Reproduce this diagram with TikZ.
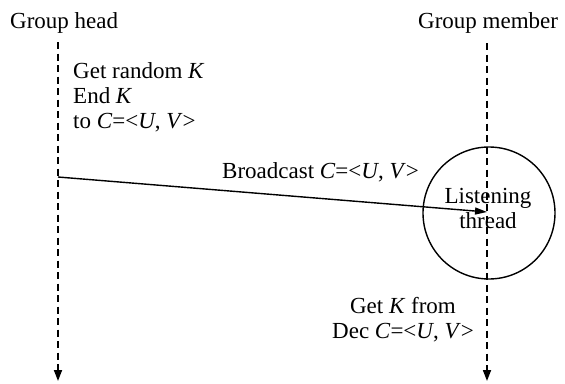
\documentclass[tikz,border=0pt]{standalone}
\usepackage{fontspec}
\setmainfont{Liberation Serif}
\usetikzlibrary{arrows.meta}
\begin{document}
\begin{tikzpicture}[x=1pt,y=-1pt,
  txt/.style={font=\fontsize{23}{25}\selectfont, inner sep=0pt},
  lbl/.style={txt, anchor=base west},
  lifeline/.style={line width=1.7pt, dash pattern=on 7pt off 4.5pt,
    -{Triangle[length=11pt,width=8pt]}},
  msg/.style={line width=1.4pt, -{Triangle[length=12pt,width=7pt]}},
  ring/.style={circle, draw, line width=1.4pt, minimum size=132pt, inner sep=0pt}]
  \useasboundingbox (0,0) rectangle (565,383);

  % column headings
  \node[lbl] (head) at (10,28) {Group head};
  \node[lbl] (member) at (418,28) {Group member};

  % lifelines
  \coordinate (headtop) at (58,42);
  \coordinate (headbot) at (58,381);
  \coordinate (membertop) at (487,43);
  \coordinate (memberbot) at (487,381);
  \draw[lifeline] (headtop) -- (headbot);
  \draw[lifeline] (membertop) -- (memberbot);

  % group head action (base = last line)
  \node[lbl, align=left] (enc) at (73,128)
    {Get random \textit{K}\\End \textit{K}\\to \textit{C}=<\textit{U}, \textit{V}>};

  % listening thread
  \node[ring] (listen) at (489,213) {};
  \node[txt, align=center, anchor=base] (listentext) at (488,228) {Listening\\thread};

  % broadcast message
  \coordinate (bstart) at (58,177);
  \coordinate (bend) at (487,212);
  \draw[msg] (bstart) -- (bend);
  \node[lbl] (bcast) at (222,178) {Broadcast \textit{C}=<\textit{U}, \textit{V}>};

  % group member action
  \node[txt, align=center, anchor=base] (dec) at (403,338)
    {Get \textit{K} from\\Dec \textit{C}=<\textit{U}, \textit{V}>};
\end{tikzpicture}
\end{document}
